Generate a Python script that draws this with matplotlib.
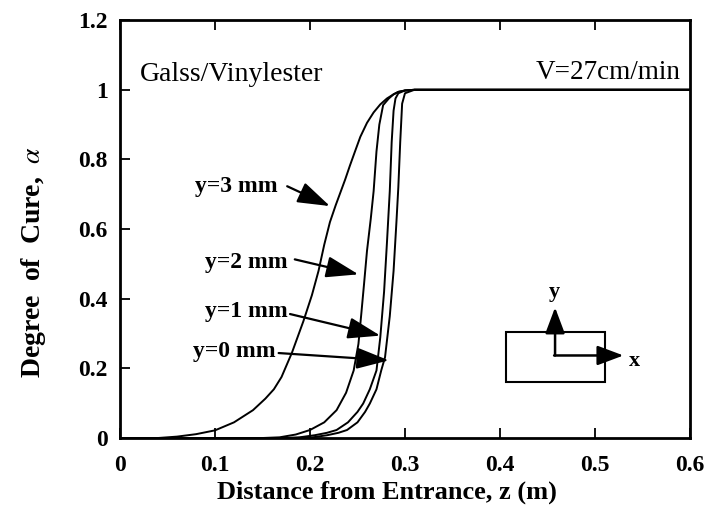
import numpy as np
import matplotlib.pyplot as plt
from matplotlib.patches import Rectangle

plt.rcParams['font.family'] = ['Liberation Serif', 'DejaVu Serif']
plt.rcParams['mathtext.fontset'] = 'stix'

# degree of cure curves (z in m, alpha)
z_y3 = [0.0, 0.04, 0.06, 0.08, 0.10, 0.12, 0.14, 0.153, 0.162, 0.170, 0.181, 0.193,
        0.202, 0.209, 0.215, 0.221, 0.227, 0.232, 0.237, 0.242, 0.247, 0.253, 0.260,
        0.267, 0.274, 0.281, 0.288, 0.293, 0.30, 0.31, 0.6]
a_y3 = [0.0, 0.0, 0.004, 0.011, 0.022, 0.045, 0.080, 0.113, 0.140, 0.175, 0.245, 0.335,
        0.410, 0.480, 0.555, 0.620, 0.668, 0.705, 0.742, 0.782, 0.820, 0.865, 0.905,
        0.935, 0.958, 0.975, 0.987, 0.994, 0.998, 1.0, 1.0]

z_y2 = [0.0, 0.15, 0.168, 0.185, 0.200, 0.215, 0.228, 0.238, 0.246, 0.251, 0.254,
        0.257, 0.260, 0.264, 0.267, 0.270, 0.273, 0.277, 0.283, 0.288, 0.293, 0.30,
        0.31, 0.6]
a_y2 = [0.0, 0.0, 0.002, 0.010, 0.023, 0.045, 0.080, 0.130, 0.194, 0.270, 0.356,
        0.445, 0.537, 0.630, 0.709, 0.823, 0.900, 0.956, 0.975, 0.987, 0.994, 0.998,
        1.0, 1.0]

z_y1 = [0.0, 0.17, 0.189, 0.205, 0.218, 0.228, 0.240, 0.250, 0.256, 0.263, 0.270,
        0.274, 0.278, 0.281, 0.284, 0.286, 0.288, 0.290, 0.293, 0.30, 0.31, 0.6]
a_y1 = [0.0, 0.0, 0.002, 0.008, 0.015, 0.023, 0.045, 0.075, 0.099, 0.140, 0.194,
        0.289, 0.420, 0.560, 0.709, 0.850, 0.940, 0.975, 0.990, 0.998, 1.0, 1.0]

z_y0 = [0.0, 0.185, 0.203, 0.218, 0.230, 0.239, 0.250, 0.258, 0.263, 0.270, 0.275,
        0.279, 0.284, 0.288, 0.291, 0.293, 0.295, 0.297, 0.30, 0.31, 0.6]
a_y0 = [0.0, 0.0, 0.002, 0.008, 0.015, 0.023, 0.045, 0.075, 0.099, 0.140, 0.194,
        0.232, 0.350, 0.480, 0.620, 0.720, 0.850, 0.960, 0.990, 1.0, 1.0]

labels = ['y=3 mm', 'y=2 mm', 'y=1 mm', 'y=0 mm']
label_pos = [(0.079, 0.723), (0.090, 0.505), (0.090, 0.362), (0.077, 0.248)]
arrow_tail = [(0.176, 0.723), (0.184, 0.513), (0.179, 0.356), (0.167, 0.244)]
arrow_tip = [(0.221, 0.666), (0.251, 0.470), (0.274, 0.294), (0.283, 0.223)]

fig = plt.figure(figsize=(7.08, 5.23), dpi=100)
ax = fig.add_axes([0.1695, 0.1625, 0.805, 0.799])

for z, a in [(z_y3, a_y3), (z_y2, a_y2), (z_y1, a_y1), (z_y0, a_y0)]:
    ax.plot(z, a, color='black', lw=1.4)

for lab, p, t, h in zip(labels, label_pos, arrow_tail, arrow_tip):
    ax.text(p[0], p[1], lab, fontsize=17, fontweight='bold', va='center', ha='left')
    ax.annotate('', xy=h, xytext=t,
                arrowprops=dict(arrowstyle='-|>,head_length=1.0,head_width=0.33',
                                color='black', lw=1.6, mutation_scale=20,
                                shrinkA=0, shrinkB=0))

ax.text(0.021, 1.043, 'Galss/Vinylester', fontsize=20, va='center', ha='left')
ax.text(0.590, 1.05, 'V=27cm/min', fontsize=19.5, va='center', ha='right')

# small coordinate sketch
ax.add_patch(Rectangle((0.406, 0.161), 0.105, 0.143, fill=False, lw=1.5,
                       edgecolor='black'))
ax.annotate('', xy=(0.458, 0.375), xytext=(0.458, 0.237),
            arrowprops=dict(arrowstyle='-|>,head_length=0.8,head_width=0.3',
                            color='black', lw=1.8, mutation_scale=20,
                            shrinkA=0, shrinkB=0))
ax.annotate('', xy=(0.530, 0.237), xytext=(0.457, 0.237),
            arrowprops=dict(arrowstyle='-|>,head_length=0.8,head_width=0.3',
                            color='black', lw=1.8, mutation_scale=20,
                            shrinkA=0, shrinkB=0))
ax.text(0.457, 0.42, 'y', fontsize=16, fontweight='bold', ha='center', va='center')
ax.text(0.542, 0.222, 'x', fontsize=16, fontweight='bold', ha='center', va='center')

ax.set_xlim(0, 0.6)
ax.set_ylim(0, 1.2)
ax.set_xticks([0, 0.1, 0.2, 0.3, 0.4, 0.5, 0.6])
ax.set_xticklabels(['0', '0.1', '0.2', '0.3', '0.4', '0.5', '0.6'])
ax.set_yticks([0, 0.2, 0.4, 0.6, 0.8, 1.0, 1.2])
ax.set_yticklabels(['0', '0.2', '0.4', '0.6', '0.8', '1', '1.2'])
ax.tick_params(direction='in', length=7, width=1.3, labelsize=17, top=True,
               right=False)
ax.tick_params(axis='x', pad=12)
ax.tick_params(axis='y', pad=9)
for lab in ax.get_xticklabels() + ax.get_yticklabels():
    lab.set_fontweight('bold')
for s in ax.spines.values():
    s.set_linewidth(2)

ax.set_xlabel('Distance from Entrance, z (m)', fontsize=19, fontweight='bold')
ax.set_ylabel(r'Degree  of  Cure,  $\alpha$', fontsize=20, fontweight='bold')
ax.xaxis.set_label_coords(0.468, -0.129)
ax.xaxis.label.set_va('center')
ax.yaxis.set_label_coords(-0.152, 0.421)
ax.yaxis.label.set_va('center')

plt.savefig('out.png', dpi=100)
